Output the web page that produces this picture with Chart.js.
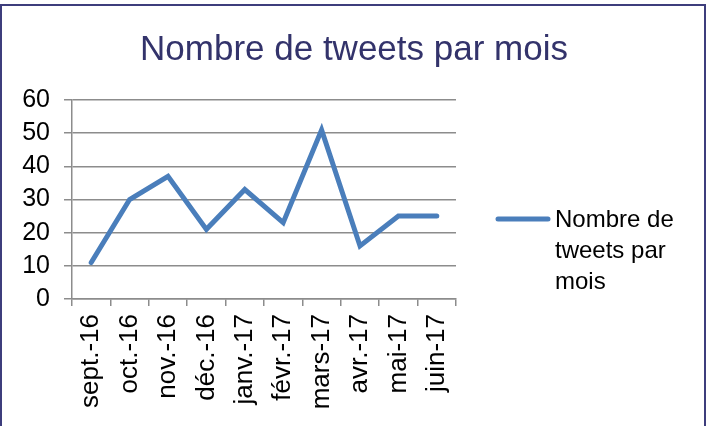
<!DOCTYPE html>
<html>
<head>
<meta charset="utf-8">
<script src="https://cdn.jsdelivr.net/npm/chart.js@4/dist/chart.umd.min.js"></script>
<style>
  html, body { margin: 0; padding: 0; background: #fff; }
  #wrap { position: relative; width: 708px; height: 426px; overflow: hidden; }
  #frame { position: absolute; left: 0; top: 4px; width: 702px; height: 440px; border: 2px solid #3d3d7c; box-sizing: content-box; }
  canvas { position: absolute; left: 0; top: 0; }
</style>
</head>
<body>
<div id="wrap">
  <div id="frame"></div>
  <canvas id="c" width="708" height="426"></canvas>
</div>
<script>
const categories = ["sept.-16", "oct.-16", "nov.-16", "déc.-16", "janv.-17", "févr.-17", "mars-17", "avr.-17", "mai-17", "juin-17"];
const tweets = [11, 30, 37, 21, 33, 23, 51, 16, 25, 25];
const seriesName = "Nombre de tweets par mois";
const legendLines = ["Nombre de", "tweets par", "mois"];
const titleText = "Nombre de tweets par mois";

const FONT = "'Liberation Sans', Arial, sans-serif";
const LINE_COLOR = "#4a7ebb";

const decorPlugin = {
  id: 'decor',
  afterDraw(chart) {
    const ctx = chart.ctx;
    const ds = chart.data.datasets[0];
    ctx.save();
    // title
    ctx.fillStyle = '#33336b';
    ctx.font = "35px " + FONT;
    ctx.textAlign = 'center';
    ctx.textBaseline = 'alphabetic';
    ctx.fillText(titleText, 354, 60);
    // legend
    ctx.strokeStyle = ds.borderColor;
    ctx.lineWidth = 5;
    ctx.lineCap = 'round';
    ctx.beginPath();
    ctx.moveTo(498, 219);
    ctx.lineTo(548, 219);
    ctx.stroke();
    ctx.fillStyle = '#000';
    ctx.font = "24px " + FONT;
    ctx.textAlign = 'left';
    legendLines.forEach((t, i) => ctx.fillText(t, 555, 227 + i * 31));
    ctx.restore();
  }
};

new Chart(document.getElementById('c'), {
  type: 'line',
  data: {
    labels: categories,
    datasets: [{
      label: seriesName,
      data: tweets,
      borderColor: LINE_COLOR,
      backgroundColor: LINE_COLOR,
      borderWidth: 5,
      pointRadius: 0,
      tension: 0,
      borderCapStyle: 'round',
      borderJoinStyle: 'miter'
    }]
  },
  options: {
    responsive: false,
    animation: false,
    devicePixelRatio: 1,
    layout: { padding: { left: 0, right: 252, top: 100, bottom: 0 } },
    plugins: {
      legend: { display: false },
      tooltip: { enabled: false },
      title: { display: false }
    },
    scales: {
      x: {
        offset: true,
        grid: { offset: true, drawOnChartArea: false, color: '#8c8c8c', lineWidth: 1.5, tickLength: 7 },
        border: { color: '#8c8c8c', width: 1.5 },
        ticks: {
          color: '#000',
          font: { family: FONT, size: 26 },
          minRotation: 90, maxRotation: 90,
          padding: 8,
          autoSkip: false
        },
        afterFit(s) { s.height = 127; }
      },
      y: {
        min: 0, max: 60,
        ticks: { stepSize: 10, autoSkip: false, color: '#000', font: { family: FONT, size: 25 }, padding: 14 },
        grid: { color: '#8c8c8c', lineWidth: 1.5, tickLength: 8 },
        border: { color: '#8c8c8c', width: 1.5 },
        afterFit(s) { s.width = 72; }
      }
    }
  },
  plugins: [decorPlugin]
});
</script>
</body>
</html>
